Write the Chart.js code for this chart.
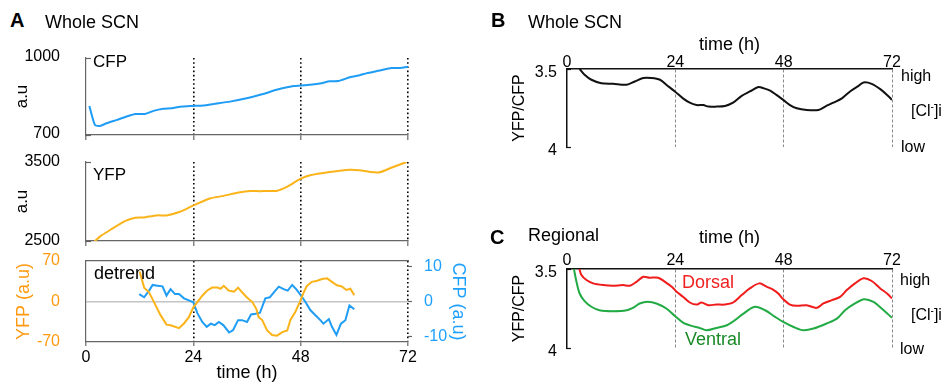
<!DOCTYPE html>
<html>
<head>
<meta charset="utf-8">
<script src="https://cdn.jsdelivr.net/npm/chart.js@4.4.1/dist/chart.umd.min.js"></script>
<style>
  body { margin: 0; background: #fff; font-family: "Liberation Sans", Arial, sans-serif; }
  #fig { position: relative; width: 944px; height: 387px; overflow: hidden; }
  canvas { position: absolute; }
  .t { position: absolute; white-space: nowrap; line-height: 1; color: #000; }
  .big { font-size: 18px; }
  .letter { font-size: 20px; font-weight: bold; }
  .side { font-size: 16px; }
</style>
</head>
<body>
<div id="fig">
  <canvas id="cfpChart" width="420" height="100" style="left:0;top:45px"></canvas>
  <canvas id="yfpChart" width="420" height="101" style="left:0;top:150px"></canvas>
  <canvas id="detChart" width="480" height="135" style="left:0;top:252px"></canvas>
  <canvas id="wholeChart" width="454" height="130" style="left:490px;top:30px"></canvas>
  <canvas id="regChart" width="454" height="135" style="left:490px;top:225px"></canvas>

  <div class="t letter" style="left:10px;top:10px">A</div>
  <div class="t big" style="left:45px;top:13px">Whole SCN</div>
  <div class="t" style="left:93px;top:53px;font-size:17px">CFP</div>
  <div class="t" style="left:93px;top:166px;font-size:17px">YFP</div>
  <div class="t big" style="left:94px;top:264px">detrend</div>

  <div class="t letter" style="left:491px;top:10px">B</div>
  <div class="t big" style="left:528px;top:13px">Whole SCN</div>
  <div class="t side" style="left:901px;top:68px">high</div>
  <div class="t side" style="left:911px;top:102px">[Cl<sup style="font-size:10px">-</sup>]i</div>
  <div class="t side" style="left:901px;top:139px">low</div>

  <div class="t letter" style="left:490px;top:227px">C</div>
  <div class="t big" style="left:528px;top:226px">Regional</div>
  <div class="t big" style="left:682px;top:273px;color:#f02020">Dorsal</div>
  <div class="t big" style="left:685px;top:330px;color:#1a8a28">Ventral</div>
  <div class="t side" style="left:900px;top:272px">high</div>
  <div class="t side" style="left:911px;top:306px">[Cl<sup style="font-size:10px">-</sup>]i</div>
  <div class="t side" style="left:900px;top:341px">low</div>
</div>

<script>
// time axis
const hourTicks = [0, 24, 48, 72];

// A: whole SCN raw CFP
const cfpHours = [0.75, 2.0, 3.1, 4.6, 6.9, 9.1, 11.0, 13.2, 15.1, 17.3, 19.2, 21.0, 23.8, 26.2, 28.5, 32.2, 35.9, 39.6, 42.6, 46.4, 48.2, 52.3, 54.5, 56.4, 59.0, 61.2, 62.7, 65.7, 68.3, 70.2, 72.0];
const cfpValues = [813, 739, 735, 746, 759, 772, 782, 782, 794, 802, 804, 810, 813, 815, 821, 830, 843, 860, 876, 891, 893, 901, 909, 910, 925, 933, 940, 951, 961, 961, 966];
const cfpTicks = [700, 1000];

// A: whole SCN raw YFP
const yfpHours = [1.9, 3.1, 5.4, 8.7, 11.0, 12.8, 15.8, 18.0, 21.0, 23.8, 27.7, 30.7, 34.1, 36.7, 38.9, 40.4, 42.6, 44.9, 47.8, 50.1, 54.5, 59.0, 61.2, 63.5, 65.7, 68.7, 71.7];
const yfpValues = [2495, 2555, 2639, 2752, 2794, 2798, 2824, 2824, 2870, 2945, 3038, 3071, 3113, 3134, 3130, 3134, 3134, 3185, 3282, 3332, 3374, 3403, 3395, 3374, 3370, 3437, 3500];
const yfpTicks = [2500, 3500];

// A: detrended
const detYfpHours = [12.0, 13.0, 14.1, 15.2, 16.7, 18.0, 18.9, 20.8, 21.9, 23.0, 24.0, 24.9, 26.0, 27.1, 28.2, 29.4, 30.1, 30.8, 31.9, 33.1, 34.0, 34.9, 36.0, 37.2, 38.1, 38.6, 39.4, 40.5, 41.6, 42.7, 43.9, 45.0, 45.7, 46.8, 47.8, 48.7, 49.4, 50.5, 51.7, 52.8, 53.9, 55.0, 56.1, 57.2, 58.2, 59.1, 60.0];
const detYfp = [52, 24, 16, -1, -24, -40, -41, -46, -38, -27, -10, -1, 10, 19, 24, 24, 22, 27, 19, 17, 24, 16, 7, -1, -13, -27, -32, -50, -58, -59, -53, -50, -32, -18, -1, 16, 27, 34, 36, 39, 40, 34, 28, 26, 20, 22, 11];
const detCfpHours = [11.9, 13.0, 14.1, 14.9, 16.0, 17.1, 18.0, 18.9, 19.9, 20.8, 21.9, 23.0, 24.0, 24.9, 26.0, 27.0, 27.9, 28.8, 29.7, 30.7, 32.0, 32.9, 34.0, 34.9, 36.0, 36.9, 37.9, 38.9, 40.1, 41.1, 42.0, 43.1, 44.2, 45.1, 46.1, 47.0, 48.1, 49.1, 50.2, 51.3, 52.4, 53.1, 54.3, 55.0, 56.0, 57.0, 58.0, 58.9, 60.0];
const detCfp = [2.1, 1.2, 3.1, 4.7, 4.5, 4.3, 1.7, 3.5, 2.1, 2.1, 0.9, 0.3, -0.2, -3.3, -5.8, -7.2, -6.3, -6.7, -5.8, -6.7, -8.8, -8.1, -5.3, -5.3, -5.8, -3.7, -3.5, -3.2, 0.9, 1.2, 2.6, 4.2, 3.5, 3.1, 4.7, 3.5, 1.7, -0.2, -2.5, -3.9, -5.3, -6.3, -5.0, -7.2, -9.5, -6.3, -5.3, -1.1, -2.2];
const detYfpTicks = [-70, 0, 70];
const detCfpTicks = [-10, 0, 10];

// B: whole SCN ratio
const wholeHours = [2.8, 3.9, 5.4, 7.6, 10.2, 13.2, 15.0, 16.9, 18.7, 20.6, 22.0, 23.9, 25.7, 27.2, 28.7, 30.2, 31.3, 33.1, 35.0, 36.8, 38.7, 40.5, 42.4, 43.5, 45.0, 46.4, 47.9, 49.4, 50.9, 53.1, 55.7, 57.2, 59.0, 60.9, 62.7, 64.6, 65.7, 67.5, 69.4, 70.9, 72.0];
const wholeRatio = [3.500, 3.537, 3.569, 3.591, 3.595, 3.601, 3.580, 3.558, 3.558, 3.569, 3.601, 3.644, 3.688, 3.716, 3.731, 3.731, 3.741, 3.741, 3.737, 3.716, 3.672, 3.644, 3.616, 3.623, 3.638, 3.666, 3.698, 3.731, 3.752, 3.763, 3.763, 3.741, 3.716, 3.688, 3.644, 3.608, 3.586, 3.595, 3.629, 3.666, 3.698];
const ratioTicks = [3.5, 4];

// C: regional ratio
const dorsalHours = [2.7, 3.2, 4.3, 5.8, 8.0, 10.2, 12.4, 13.9, 15.4, 16.9, 18.3, 20.2, 21.7, 23.2, 24.3, 25.7, 27.2, 28.7, 29.8, 31.3, 33.1, 35.0, 36.8, 38.7, 40.5, 42.6, 44.2, 45.8, 46.8, 47.9, 49.4, 50.9, 53.1, 55.3, 56.8, 58.7, 60.5, 62.0, 63.8, 65.7, 67.5, 69.4, 70.9, 72.0];
const dorsalRatio = [3.495, 3.538, 3.570, 3.591, 3.602, 3.606, 3.602, 3.606, 3.581, 3.549, 3.555, 3.555, 3.581, 3.612, 3.644, 3.676, 3.712, 3.725, 3.712, 3.729, 3.725, 3.725, 3.712, 3.665, 3.623, 3.591, 3.612, 3.633, 3.655, 3.691, 3.725, 3.733, 3.729, 3.746, 3.718, 3.697, 3.676, 3.633, 3.591, 3.559, 3.576, 3.623, 3.655, 3.686];
const ventralHours = [1.5, 2.1, 2.8, 3.9, 5.4, 7.2, 10.2, 13.2, 15.0, 16.1, 17.9, 19.8, 22.0, 23.9, 25.7, 27.6, 29.4, 30.9, 33.1, 35.4, 37.2, 39.1, 41.6, 43.9, 46.1, 47.9, 50.2, 52.4, 54.6, 57.5, 59.8, 61.6, 63.8, 65.8, 67.9, 69.7, 72.0];
const ventralRatio = [3.495, 3.581, 3.655, 3.703, 3.739, 3.761, 3.767, 3.761, 3.739, 3.718, 3.708, 3.718, 3.750, 3.797, 3.839, 3.860, 3.873, 3.888, 3.873, 3.856, 3.824, 3.782, 3.739, 3.761, 3.803, 3.835, 3.867, 3.888, 3.877, 3.845, 3.814, 3.761, 3.718, 3.691, 3.708, 3.750, 3.809];

const blue = "#1f9df5";
const gold = "#fbb31a";
const orangeText = "#ff9a10";
const blueText = "#1ea0ff";
const axisGrey = "#666";
const hidden = "rgba(0,0,0,0)";

Chart.defaults.font.family = '"Liberation Sans", Arial, sans-serif';
Chart.defaults.color = "#000";
Chart.defaults.animation = false;

function pts(xs, ys) {
  return xs.map((x, i) => ({ x: x, y: ys[i] }));
}

function fixTicks(values) {
  return (scale) => {
    scale.ticks = values.map((v) => ({ value: v }));
  };
}

// force the size of an axis box and drop the extra label padding
function fitTo(size) {
  return (s) => {
    if (s.isHorizontal()) s.height = size;
    else s.width = size;
    s.paddingTop = 0;
    s.paddingBottom = 0;
    s.paddingLeft = 0;
    s.paddingRight = 0;
  };
}

function line(xs, ys, color, tension) {
  return {
    data: pts(xs, ys),
    borderColor: color,
    borderWidth: 2,
    pointRadius: 0,
    tension: tension,
  };
}

function plainLabel(v) {
  return String(v);
}

const noPlugins = { legend: { display: false }, tooltip: { enabled: false } };

// dotted black day lines for panel A, nothing at 0
function dayLineColor(ctx) {
  return ctx.tick && ctx.tick.value === 0 ? hidden : "#000";
}

// small raw charts of panel A (CFP, YFP)
function rawChart(id, hours, values, color, yMin, yMax, yTicks, padTop, shift) {
  return new Chart(document.getElementById(id), {
    type: "line",
    data: { datasets: [line(hours, values, color, 0.2)] },
    options: {
      responsive: false,
      layout: { padding: { left: 0, right: 12, top: padTop, bottom: 0 } },
      plugins: noPlugins,
      scales: {
        x: {
          type: "linear",
          min: 0,
          max: 72,
          afterBuildTicks: fixTicks(hourTicks),
          afterFit: fitTo(10),
          ticks: { display: false },
          grid: { color: dayLineColor, lineWidth: 1.6, tickLength: 5, tickColor: axisGrey, tickWidth: 1.2 },
          border: { color: axisGrey, width: 1.2, dash: [1.6, 2.6] },
        },
        y: {
          min: yMin,
          max: yMax,
          afterBuildTicks: fixTicks(yTicks),
          afterFit: fitTo(86),
          ticks: { font: { size: 16 }, padding: 31, callback: plainLabel, labelOffset: shift },
          grid: { drawOnChartArea: false, tickLength: -5, tickColor: axisGrey, tickWidth: 1.2 },
          border: { color: axisGrey, width: 1.2 },
          title: { display: true, text: "a.u", font: { size: 17 }, padding: { top: 12, bottom: 0 } },
        },
      },
    },
  });
}

rawChart("cfpChart", cfpHours, cfpValues, blue, 700, 1000, cfpTicks, 13, -1.5);
rawChart("yfpChart", yfpHours, yfpValues, gold, 2500, 3500, yfpTicks, 12, 0);

// detrended chart, two y axes
new Chart(document.getElementById("detChart"), {
  type: "line",
  data: {
    datasets: [
      Object.assign(line(detYfpHours, detYfp, gold, 0), { yAxisID: "y" }),
      Object.assign(line(detCfpHours, detCfp, blue, 0), { yAxisID: "y2" }),
    ],
  },
  options: {
    responsive: false,
    layout: { padding: { left: 0, right: 0, top: 9, bottom: 0 } },
    plugins: noPlugins,
    scales: {
      x: {
        type: "linear",
        min: 0,
        max: 72,
        afterBuildTicks: fixTicks(hourTicks),
        afterFit: fitTo(45),
        ticks: { font: { size: 16 }, padding: 2, callback: plainLabel },
        grid: { color: dayLineColor, lineWidth: 1.6, tickLength: 4, tickColor: axisGrey, tickWidth: 1.2 },
        border: { color: axisGrey, width: 1.2, dash: [1.6, 2.6] },
        title: { display: true, text: "time (h)", font: { size: 18 }, padding: { top: 0, bottom: 3 } },
      },
      x2: {
        type: "linear",
        position: "top",
        min: 0,
        max: 72,
        afterFit: fitTo(0),
        ticks: { display: false },
        grid: { drawOnChartArea: false, drawTicks: false },
        border: { color: axisGrey, width: 1.2 },
      },
      y: {
        min: -70,
        max: 70,
        afterBuildTicks: fixTicks(detYfpTicks),
        afterFit: fitTo(86),
        ticks: { font: { size: 16 }, color: orangeText, padding: 26, callback: plainLabel },
        grid: {
          color: (ctx) => (ctx.tick && ctx.tick.value === 0 ? "#c4c4c4" : hidden),
          lineWidth: 1.5,
          drawTicks: false,
        },
        border: { color: axisGrey, width: 1.2 },
        title: { display: true, text: "YFP (a.u)", color: orangeText, font: { size: 18 }, padding: { top: 13, bottom: 0 } },
      },
      y2: {
        position: "right",
        min: -11.5,
        max: 11.5,
        afterBuildTicks: fixTicks(detCfpTicks),
        afterFit: fitTo(72),
        ticks: { font: { size: 16 }, color: blueText, padding: 12, callback: plainLabel },
        grid: { drawOnChartArea: false, tickLength: 4, tickColor: axisGrey, tickWidth: 1.2 },
        border: { display: false },
        title: { display: true, text: "CFP (a.u)", color: blueText, font: { size: 18 }, padding: { top: 11, bottom: 0 } },
      },
    },
  },
});

// ratio charts of panels B and C
function ratioChart(id, datasets, xHeight, titleTop, labelPad, padBottom) {
  return new Chart(document.getElementById(id), {
    type: "line",
    data: { datasets: datasets },
    options: {
      responsive: false,
      layout: { padding: { left: 0, right: 52, top: 0, bottom: padBottom } },
      plugins: noPlugins,
      scales: {
        x: {
          type: "linear",
          position: "top",
          min: 0,
          max: 72,
          afterBuildTicks: fixTicks(hourTicks),
          afterFit: fitTo(xHeight),
          ticks: { font: { size: 16, lineHeight: 1 }, padding: labelPad, callback: plainLabel },
          grid: {
            color: (ctx) => (ctx.tick && ctx.tick.value === 0 ? hidden : "#8a8a8a"),
            lineWidth: 1,
            drawTicks: false,
          },
          border: { color: "#111", width: 1.5, dash: [3, 2] },
          title: { display: true, text: "time (h)", font: { size: 18 }, padding: { top: titleTop, bottom: 0 } },
        },
        y: {
          reverse: true,
          min: 3.5,
          max: 4,
          afterBuildTicks: fixTicks(ratioTicks),
          afterFit: fitTo(77),
          ticks: { font: { size: 16 }, padding: 14, callback: plainLabel, labelOffset: 4 },
          grid: { drawOnChartArea: false, tickLength: -4, tickColor: "#111", tickWidth: 1.2 },
          border: { color: "#111", width: 1.5 },
          title: { display: true, text: "YFP/CFP", font: { size: 16 }, padding: { top: 20, bottom: 0 } },
        },
      },
    },
  });
}

ratioChart("wholeChart", [line(wholeHours, wholeRatio, "#111", 0.3)], 39, 4, -2, 13);
ratioChart(
  "regChart",
  [line(dorsalHours, dorsalRatio, "#f01c1c", 0.3), line(ventralHours, ventralRatio, "#22aa44", 0.3)],
  44, 2.5, 0, 12
);
</script>
</body>
</html>
